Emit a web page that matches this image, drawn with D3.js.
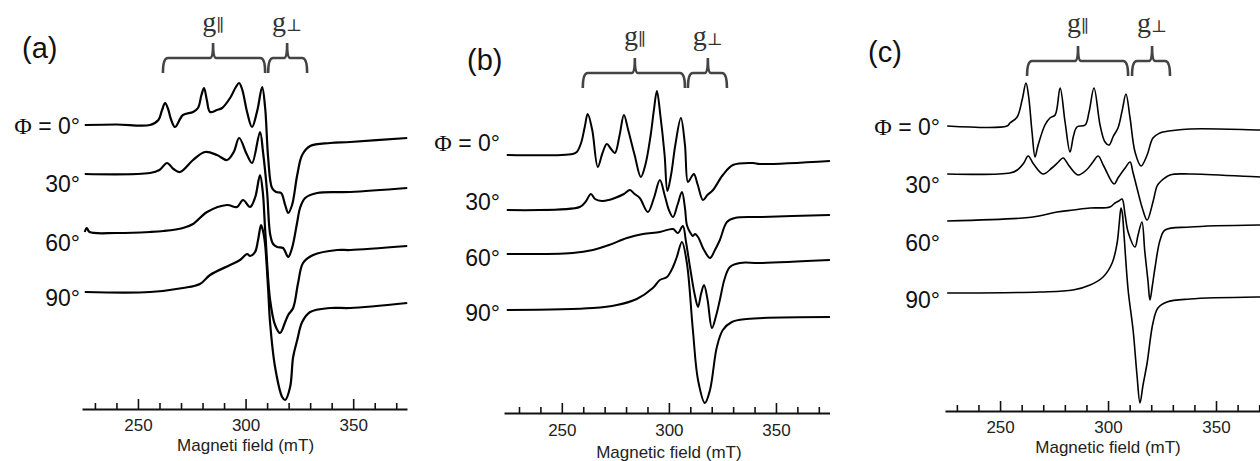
<!DOCTYPE html>
<html><head><meta charset="utf-8">
<script src="https://cdn.jsdelivr.net/npm/d3@7"></script>
<style>
body{margin:0;background:#fff;}
svg{display:block;}
</style>
</head><body>
<svg id="chart" width="1260" height="461" font-family="'Liberation Sans',Arial,sans-serif"></svg>
<script>
// ---------------- DATA ----------------
const angleLabels = ["0°", "30°", "60°", "90°"];
const panelTags = ["(a)", "(b)", "(c)"];
const axisTitles = ["Magneti field (mT)", "Magnetic field (mT)", "Magnetic field (mT)"];
const majorTicks = [250, 300, 350];
const minorTicks = [230, 240, 260, 270, 280, 290, 310, 320, 330, 340, 360, 370];
const fieldDomains = [[224, 375], [223, 375], [224.5, 375]];

// Panel (a) spectra: [field mT, signal a.u.]
const specA0 = [[225.3,0],[240,0.5],[255.6,0],[259.5,5],[261.2,15],[262.6,22],[264,16],[265.3,6],[267.2,-2],[270.9,10],[275.6,13],[277.9,17],[279.5,30],[280.7,37],[282,25],[283.5,13],[286.7,15],[289.1,17],[292.8,27],[295.5,38],[297.0,42],[298.5,35],[300.7,13],[303.0,-2],[305.5,15],[307.7,38],[309.1,17],[310.5,-33],[312.3,-63],[314.2,-67],[316.5,-68],[318.4,-80],[319.8,-88],[321.6,-80],[324.0,-50],[326.3,-30],[330.0,-21],[339.3,-18],[348.6,-17],[375.1,-13]];
const specA30 = [[225.3,0],[255.6,1],[260,4],[263.5,11],[266.5,5],[269.5,2],[275.6,14],[281.2,22],[286.7,19],[291.4,14],[294.5,22],[297.0,36],[300.5,20],[303.0,11],[306.7,42],[308.1,22],[310.0,-18],[311.4,-60],[312.8,-70],[314.7,-73],[317.4,-74],[319.8,-83],[321.6,-74],[324.0,-48],[325.3,-34],[327.7,-24],[333.3,-19],[348.6,-18],[375.1,-14]];
const specA60 = [[225.3,0],[226.2,4],[227.5,0],[240,-1],[255.6,0],[262,1],[270.9,4],[275.6,8],[282.1,20],[291.4,27],[296.0,25],[298.8,32],[302.1,25],[304.5,35],[306.7,57],[308,40],[309.1,2],[311.4,-68],[313.7,-93],[316.0,-101],[318.4,-90],[319.8,-83],[322.1,-76],[324.4,-51],[326.7,-31],[331.4,-23],[342.6,-18],[348.6,-18],[375.1,-14]];
const specA90 = [[225.3,0],[255.6,0],[270.9,4],[278.8,8],[283.5,17],[292.8,27],[297.4,32],[300.7,38],[302.1,36],[304.4,40],[305.8,52],[307.2,67],[308.2,60],[309.1,47],[310.5,2],[311.4,-31],[313.7,-75],[317.0,-105],[318.4,-108],[320.7,-95],[322.1,-65],[324.0,-48],[326.3,-30],[330.0,-20],[339.3,-16],[348.6,-16],[375.1,-11]];

// Panel (b)
const specB0 = [[224.3,0],[255.1,1],[257,3],[259,12],[260.7,28],[262.1,41],[264.2,25],[266.8,-12],[269,2],[271.0,11],[273,6],[274.8,2],[277,20],[279.0,40],[281,25],[284,0],[286.9,-22],[289,-10],[291.5,20],[293,45],[294.4,64],[296,40],[298,0],[299.3,-36],[301,-20],[303,10],[305.6,37],[307.5,10],[308.9,-27],[310.5,-22],[311.7,-19],[313.5,-30],[315.9,-45],[318,-40],[320.6,-35],[325.2,-20],[329.9,-10],[339.3,-8],[342.5,-9],[375.2,-6]];
const specB30 = [[224.3,0],[258.4,3],[261,8],[263.6,16],[265.5,11],[268.7,9],[272,10],[274.8,12],[279,16],[281.8,20],[284,16],[286.4,12],[290.2,-2],[293,12],[295.8,30],[298,15],[300,0],[301.9,-7],[304,5],[306.1,18],[307.5,2],[308.4,-15],[309.8,-22],[311.2,-26],[312.2,-24],[313.6,-27],[316.4,-40],[319.2,-48],[321.5,-40],[323.8,-30],[327.1,-12],[330.8,-8],[342.5,-7],[375.2,-5]];
const specB60 = [[224.3,0],[255,1],[264.5,4],[272,9],[280.4,16],[287.9,20],[295.8,22],[301.9,25],[304.2,21],[306.5,28],[308,12],[310,-15],[312,-40],[313.6,-53],[315,-40],[316.4,-31],[318,-45],[320.1,-74],[322,-62],[323.8,-46],[326,-25],[328.5,-13],[333.2,-9],[342.5,-9],[375.2,-6]];
const specB90 = [[224.3,0],[264.5,2],[275.7,5],[285,11],[292.5,22],[295.8,30],[299.1,33],[301.9,43],[303.7,53],[306.1,68],[308.4,47],[311.2,-20],[313.6,-70],[316.8,-93],[319.2,-80],[322.4,-37],[325.2,-20],[329.4,-12],[336.4,-9],[375.2,-7]];

// Panel (c)
const specC0 = [[225.5,0],[253.2,0],[254.6,3],[257.9,9],[260.2,26],[262.0,43],[263.2,30],[264.8,-6],[266.2,-31],[267.5,-20],[270.8,1],[273.1,8],[275.5,11],[277.8,38],[280.1,4],[282.4,-26],[284,-10],[285.6,-1],[289.4,1],[291.2,14],[293.5,38],[296.3,1],[298.6,-16],[300.5,-19],[302.5,-10],[304.6,-2],[306.5,15],[308.3,32],[310.2,8],[312.5,-26],[315.3,-40],[318.1,-29],[320.8,-12],[324,-7],[325.5,-6],[338.0,-3],[370.4,-4],[375,-4]];
const specC30 = [[225.5,0],[254.6,1],[258,4],[261,11],[263.0,18],[265.5,10],[269.9,0],[274,6],[277,12],[279.2,16],[282,8],[286.1,-1],[290,4],[293,12],[295.4,18],[298,8],[302.8,-10],[304.6,-4],[307.9,6],[310.2,12],[311.5,2],[313.4,-14],[316,-35],[318.1,-46],[320.8,-28],[322.7,-12],[324.1,-8],[328.7,-1],[338.0,0],[370.4,-3],[375,-3]];
const specC60 = [[225.5,0],[260.6,3],[268,5],[276.4,9],[284,11],[291.7,13],[300.9,14],[303.2,18],[305,20],[306.5,22],[307.9,6],[309.3,-11],[312.5,-26],[313.8,-15],[315.7,-1],[317,-30],[318.5,-60],[319.4,-79],[320.5,-65],[321.8,-46],[324.1,-19],[326.4,-9],[338.0,-6],[370.4,-4],[375,-4]];
const specC90 = [[225.5,0],[268.5,1],[283.8,3],[291.7,8],[297.7,16],[301.9,30],[304.2,50],[305.2,70],[306.0,85],[306.6,80],[307.4,58],[309.3,3],[311.6,-37],[313.4,-82],[314.8,-110],[316.2,-92],[318.1,-70],[320.8,-30],[323.1,-15],[327.3,-9],[338.0,-6],[370.4,-4],[375,-4]];

// g-tensor brace annotations (field ranges, mT)
const bracesA = [{sym:"∥", from:261.6, to:309.1, mid:284.9}, {sym:"⊥", from:310.5, to:328.6, mid:319.3}];
const bracesB = [{sym:"∥", from:259.8, to:307.5, mid:284.1}, {sym:"⊥", from:308.9, to:327.1, mid:318.2}];
const bracesC = [{sym:"∥", from:262.5, to:309.3, mid:286.1}, {sym:"⊥", from:311.1, to:328.7, mid:320.4}];

// ---------------- LAYOUT ----------------
const SANS = "'Liberation Sans',Arial,sans-serif";
const SERIF = "'Liberation Serif','Times New Roman',serif";
const layout = [
  {x0:82, x1:407, axisY:409, tickPad:10, titleY:451, tagX:22, tagY:58, labelX:80,
   offsets:[284,235,177,117], labelDy:[1,10,11,6], braceTop:58, braceBot:73, braceNotch:43, gY:31, lw:2.2,
   specs:[specA0,specA30,specA60,specA90], braces:bracesA},
  {x0:504, x1:829.5, axisY:413, tickPad:11, titleY:457.5, tagX:467, tagY:70, labelX:500,
   offsets:[258,203,159,103], labelDy:[-12,-8,4,3], braceTop:73, braceBot:88, braceNotch:58, gY:45, lw:2,
   specs:[specB0,specB30,specB60,specB90], braces:bracesB},
  {x0:945, x1:1270, axisY:411, tickPad:10, titleY:453, tagX:868, tagY:62, labelX:940,
   offsets:[285,237,190,118], labelDy:[1,11,22,7], braceTop:61, braceBot:76, braceNotch:46, gY:32, lw:1.6,
   specs:[specC0,specC30,specC60,specC90], braces:bracesC}
];

const svg = d3.select("#chart");

layout.forEach((L, pi) => {
  const g = svg.append("g");
  const x = d3.scaleLinear().domain(fieldDomains[pi]).range([L.x0, L.x1]);
  const y = d3.scaleLinear().domain([0, 300]).range([L.axisY, L.axisY - 300]);

  // minor ticks
  g.append("g").attr("transform", `translate(0,${L.axisY})`)
    .call(d3.axisBottom(x).tickValues(minorTicks).tickSize(-6).tickSizeOuter(0).tickFormat(""))
    .call(s => s.select(".domain").remove())
    .call(s => s.selectAll("line").attr("stroke", "#111").attr("stroke-width", 1.6));
  // major ticks + labels + domain
  g.append("g").attr("transform", `translate(0,${L.axisY})`)
    .call(d3.axisBottom(x).tickValues(majorTicks).tickSize(-10).tickSizeOuter(0).tickPadding(L.tickPad))
    .call(s => s.attr("font-family", SANS).attr("font-size", 17))
    .call(s => s.select(".domain").attr("stroke", "#111").attr("stroke-width", 2))
    .call(s => s.selectAll("line").attr("stroke", "#111").attr("stroke-width", 1.6))
    .call(s => s.selectAll("text").attr("fill", "#222"));

  // axis title
  g.append("text").attr("x", x(300)).attr("y", L.titleY).attr("text-anchor", "middle")
    .attr("font-size", 17).attr("fill", "#222").text(axisTitles[pi]);

  // panel tag
  g.append("text").attr("x", L.tagX).attr("y", L.tagY).attr("font-size", 29).attr("fill", "#111").text(panelTags[pi]);

  // spectra
  const line = d3.line().x(d => x(d[0])).curve(d3.curveCatmullRom.alpha(0.5));
  L.specs.forEach((spec, i) => {
    const off = L.offsets[i];
    g.append("path").datum(spec)
      .attr("fill", "none").attr("stroke", "#000").attr("stroke-width", L.lw)
      .attr("stroke-linejoin", "round")
      .attr("d", line.y(d => y(off + d[1])));
    const t = g.append("text").attr("x", L.labelX).attr("y", y(off) + L.labelDy[i])
      .attr("text-anchor", "end").attr("dominant-baseline", "central").attr("font-size", 23).attr("fill", "#111");
    if (i === 0) {
      t.append("tspan").attr("font-family", SERIF).attr("font-size", 24).text("Φ");
      t.append("tspan").text(" = " + angleLabels[i]);
    } else {
      t.text(angleLabels[i]);
    }
  });

  // braces
  L.braces.forEach(b => {
    const x1 = x(b.from), x2 = x(b.to), xm = x(b.mid), r = 5;
    const p = d3.path();
    p.moveTo(x1, L.braceBot);
    p.quadraticCurveTo(x1, L.braceTop, x1 + r, L.braceTop);
    p.lineTo(xm - 3, L.braceTop);
    p.quadraticCurveTo(xm, L.braceTop, xm, L.braceNotch);
    p.quadraticCurveTo(xm, L.braceTop, xm + 3, L.braceTop);
    p.lineTo(x2 - r, L.braceTop);
    p.quadraticCurveTo(x2, L.braceTop, x2, L.braceBot);
    g.append("path").attr("d", p.toString()).attr("fill", "none")
      .attr("stroke", "#444").attr("stroke-width", 2.6);
    const gt = g.append("text").attr("x", xm).attr("y", L.gY).attr("text-anchor", "middle")
      .attr("font-family", SERIF).attr("fill", "#333");
    gt.append("tspan").attr("font-size", 28).text("g");
    gt.append("tspan").attr("font-size", 17).attr("font-family", "'DejaVu Serif','Liberation Serif',serif").text(b.sym);
  });
});
</script>
</body></html>
